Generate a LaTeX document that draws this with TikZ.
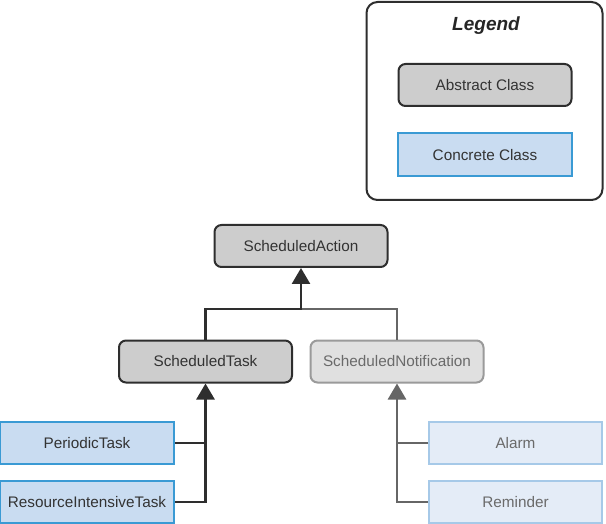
\documentclass[tikz,border=0pt]{standalone}
\usepackage{fontspec}
\setmainfont{Liberation Sans}
\usetikzlibrary{arrows.meta}
\definecolor{darkline}{HTML}{2E2E2E}
\definecolor{absfill}{HTML}{CDCDCD}
\definecolor{confill}{HTML}{C9DCF1}
\definecolor{conline}{HTML}{3A9AD4}
\definecolor{ltfill}{HTML}{E4ECF7}
\definecolor{ltline}{HTML}{A6C9E8}
\definecolor{notfill}{HTML}{E0E0E0}
\definecolor{notline}{HTML}{9A9A9A}
\definecolor{graytxt}{HTML}{6A6A6A}
\definecolor{grayconn}{HTML}{666666}
\tikzset{
  cls/.style={minimum width=173pt, minimum height=42pt, inner sep=0pt, line width=2pt, font=\fontsize{15.3}{17}\selectfont, text=black!80},
  abstractcls/.style={cls, rounded corners=7pt, draw=darkline, fill=absfill},
  concretecls/.style={cls, draw=conline, fill=confill},
  abstractlt/.style={cls, rounded corners=7pt, draw=notline, fill=notfill, text=graytxt},
  concretelt/.style={cls, draw=ltline, fill=ltfill, text=graytxt},
  conn/.style={line width=2.6pt, draw=darkline},
  connlt/.style={line width=2.6pt, draw=grayconn},
  tip/.style={-{Triangle[width=18pt,length=16pt]}},
}
\begin{document}
\begin{tikzpicture}[x=1pt,y=-1pt]
\useasboundingbox (0,0) rectangle (606,524);
% legend
\node[draw=darkline, line width=2pt, rounded corners=11pt, minimum width=236pt, minimum height=198pt, inner sep=0pt] (legend) at (484.5,101) {};
\node[font=\fontsize{19}{21}\selectfont\bfseries\itshape, text=black!85] (legendtitle) at (486,26) {Legend};
\node[abstractcls] (abs) at (485,85) {Abstract Class};
\node[concretecls, minimum width=174pt, minimum height=43pt] (con) at (485,155) {Concrete Class};
% classes
\node[abstractcls] (action) at (301,246) {ScheduledAction};
\node[abstractcls] (task) at (205.5,361.5) {ScheduledTask};
\node[abstractlt] (notif) at (397,361.5) {ScheduledNotification};
\node[concretecls, minimum width=174pt] (periodic) at (87,443) {PeriodicTask};
\node[concretecls, minimum width=174pt] (resource) at (87,502) {ResourceIntensiveTask};
\node[concretelt, minimum width=173pt] (alarm) at (515.5,443) {Alarm};
\node[concretelt, minimum width=173pt] (reminder) at (515.5,502) {Reminder};
% connectors
\coordinate (j1) at (301,309);
\draw[connlt] (notif.north) |- (j1);
\draw[conn, tip] (task.north) |- (j1) -- (action.south);
\draw[conn] (periodic.east) -- (periodic.east -| task.south);
\draw[conn, tip] (resource.east) -| (task.south);
\draw[connlt] (alarm.west) -- (alarm.west -| notif.south);
\draw[connlt, tip] (reminder.west) -| (notif.south);
\end{tikzpicture}
\end{document}
